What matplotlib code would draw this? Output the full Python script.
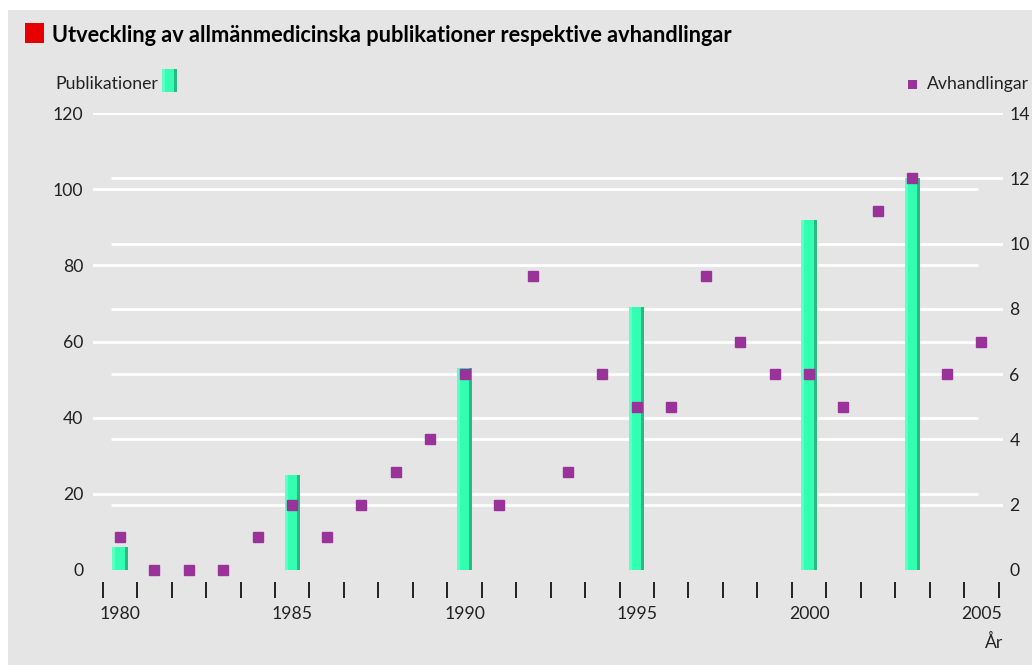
import matplotlib.pyplot as plt
from matplotlib.patches import Rectangle
import numpy as np

# data
pub_years = [1980, 1985, 1990, 1995, 2000, 2003]
pub_values = [6, 25, 53, 69, 92, 103]

avh_years = list(range(1980, 2006))
avh_values = [1, 0, 0, 0, 1, 2, 1, 2, 3, 4, 6, 2, 9, 3, 6, 5, 5, 9, 7, 6, 6, 5, 11, 12, 6, 7]

left_ticks = [0, 20, 40, 60, 80, 100, 120]
right_ticks = [0, 2, 4, 6, 8, 10, 12, 14]
year_labels = [1980, 1985, 1990, 1995, 2000, 2005]

W, H = 1032, 665
bg = '#e5e5e5'
bar_main = '#33ffb3'
bar_light = '#5cffc4'
bar_dark = '#2ab982'
purple = '#993399'
txt = '#222222'
fs = 12.7

plt.rcParams['font.family'] = ['Lato', 'DejaVu Sans']

fig = plt.figure(figsize=(W / 100, H / 100), dpi=100, facecolor='white')
fig.patches.append(Rectangle((8 / W, 0), 1 - 8 / W, 1 - 10 / H, transform=fig.transFigure,
                             facecolor=bg, edgecolor='none', zorder=-10))

def px(x, y):
    return x / W, 1 - y / H

ax = fig.add_axes([93 / W, (H - 570) / H, 910 / W, 457 / H])
ax.patch.set_visible(False)
ax.set_xlim(1979.216, 2005.63)
ax.set_ylim(0, 120)

# gridlines: left scale and right scale have their own lines
for t in left_ticks[1:]:
    ax.hlines(t, 1979.19, 2004.905, color='white', lw=2, zorder=1)
for t in right_ticks[1:]:
    ax.hlines(t * 120 / 14, 1979.74, 2005.63, color='white', lw=2, zorder=1)

# bars with light left edge and darker right edge
bw = 0.44
sw = 0.087
x = np.array(pub_years, dtype=float)
ax.bar(x, pub_values, width=bw, color=bar_main, zorder=2)
ax.bar(x - bw / 2 + sw / 2, pub_values, width=sw, color=bar_light, zorder=3)
ax.bar(x + bw / 2 - sw / 2, pub_values, width=sw, color=bar_dark, zorder=3)

for s in ax.spines.values():
    s.set_visible(False)
ax.spines['bottom'].set_position(('outward', 12 * 0.72))
ax.set_yticks(left_ticks)
ax.tick_params(axis='y', length=0, pad=7, labelsize=fs, labelcolor=txt)
ax.set_xticks(np.arange(1979.5, 2006, 1))
ax.set_xticklabels([])
ax.tick_params(axis='x', which='major', direction='out', length=11.5, width=1.2, color='black')
ax.set_xticks(year_labels, minor=True)
ax.set_xticklabels([str(y) for y in year_labels], minor=True)
ax.tick_params(axis='x', which='minor', length=0, pad=17, labelsize=fs, labelcolor=txt)

ax2 = ax.twinx()
ax2.set_ylim(0, 14)
ax2.plot(avh_years, avh_values, 's', color=purple, markersize=6.8, zorder=4, clip_on=False)
for s in ax2.spines.values():
    s.set_visible(False)
ax2.set_yticks(right_ticks)
ax2.tick_params(axis='y', length=0, pad=4.5, labelsize=fs, labelcolor=txt)

# title
fig.patches.append(Rectangle(px(25, 43), 19 / W, 20 / H, transform=fig.transFigure,
                             facecolor='#e60000', edgecolor='none'))
fig.text(*px(52, 35), 'Utveckling av allmänmedicinska publikationer respektive avhandlingar',
         fontsize=15.7, fontweight='bold', color='black', va='center', ha='left')

# legend-like labels
fig.text(*px(55, 84), 'Publikationer', fontsize=fs, color=txt, va='center', ha='left')
fig.patches.append(Rectangle(px(162, 92), 15 / W, 23 / H, transform=fig.transFigure,
                             facecolor=bar_main, edgecolor='none'))
fig.patches.append(Rectangle(px(162, 92), 3 / W, 23 / H, transform=fig.transFigure,
                             facecolor=bar_light, edgecolor='none'))
fig.patches.append(Rectangle(px(174, 92), 3 / W, 23 / H, transform=fig.transFigure,
                             facecolor=bar_dark, edgecolor='none'))
fig.patches.append(Rectangle(px(908, 89), 9 / W, 9 / H, transform=fig.transFigure,
                             facecolor=purple, edgecolor='none'))
fig.text(*px(927, 84), 'Avhandlingar', fontsize=fs, color=txt, va='center', ha='left')
fig.text(*px(1003, 642), 'År', fontsize=fs, color=txt, va='center', ha='right')

fig.savefig('out.png', dpi=100, facecolor=fig.get_facecolor())
